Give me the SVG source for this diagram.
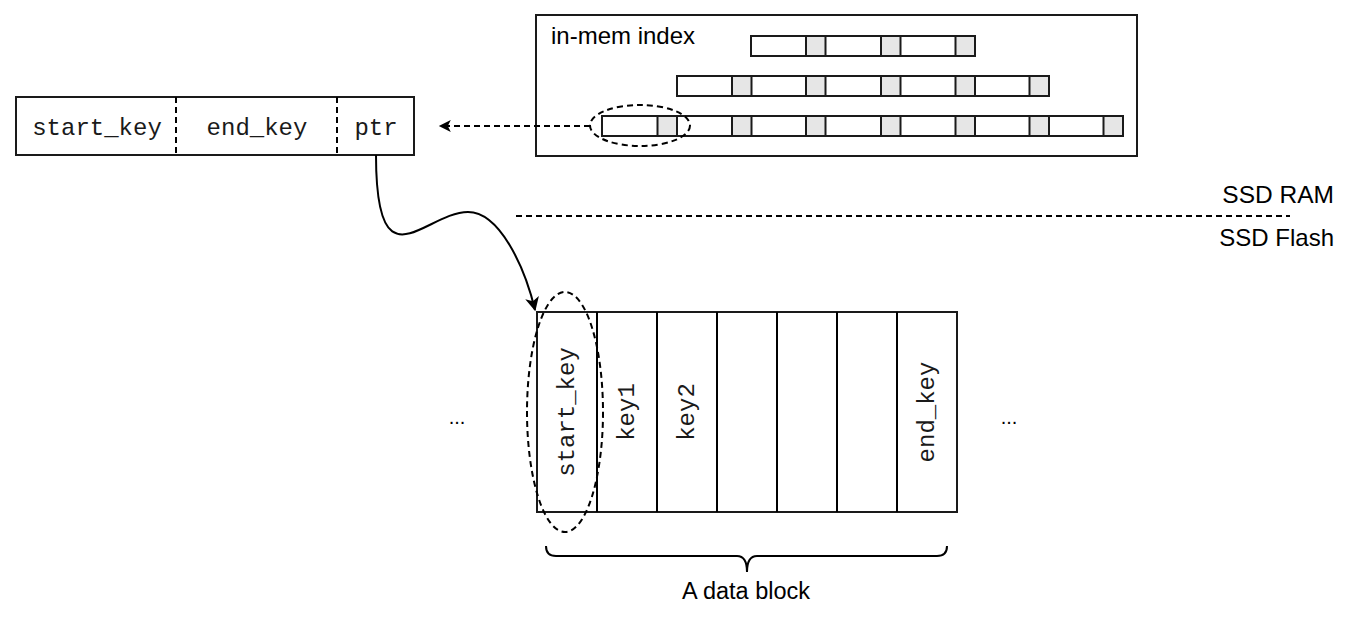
<svg xmlns="http://www.w3.org/2000/svg" width="1350" height="630" viewBox="0 0 1350 630">
<defs>
<style>
.box{fill:#fff;stroke:#1a1a1a;stroke-width:2}
.gray{fill:#e6e6e6;stroke:#1a1a1a;stroke-width:2}
.dash{fill:none;stroke:#000;stroke-width:2;stroke-dasharray:6 4}
.sans{font-family:"Liberation Sans",Arial,sans-serif;fill:#000}
.mono{font-family:"Liberation Mono","Courier New",monospace;font-size:24px;fill:#1a1a1a}
.line{fill:none;stroke:#000;stroke-width:2}
</style>
<marker id="ah" viewBox="0 0 10 10" refX="9" refY="5" markerWidth="14" markerHeight="12" markerUnits="userSpaceOnUse" orient="auto">
<path d="M0,0 L10,5 L0,10 L2.5,5 Z" fill="#000"/>
</marker>
<marker id="ah2" viewBox="0 0 10 10" refX="9" refY="5" markerWidth="15" markerHeight="14" markerUnits="userSpaceOnUse" orient="auto">
<path d="M0,0 L10,5 L0,10 L2.5,5 Z" fill="#000"/>
</marker>
</defs>
<rect width="1350" height="630" fill="#fff"/>

<g id="inmem-index">
<rect class="box" x="536" y="15" width="601" height="141"/>
<text class="sans" x="551" y="44" font-size="24">in-mem index</text>
<g id="row1">
<rect class="box" x="751" y="36" width="224" height="20"/>
<rect class="gray" x="806" y="36" width="19.5" height="20"/>
<rect class="gray" x="881" y="36" width="19.5" height="20"/>
<rect class="gray" x="955.5" y="36" width="19.5" height="20"/>
</g>
<g id="row2">
<rect class="box" x="677" y="76" width="372" height="20"/>
<rect class="gray" x="732" y="76" width="19.5" height="20"/>
<rect class="gray" x="806" y="76" width="19.5" height="20"/>
<rect class="gray" x="881" y="76" width="19.5" height="20"/>
<rect class="gray" x="955.5" y="76" width="19.5" height="20"/>
<rect class="gray" x="1029.5" y="76" width="19.5" height="20"/>
</g>
<g id="row3">
<rect class="box" x="602" y="116" width="521" height="20"/>
<rect class="gray" x="657.5" y="116" width="19.5" height="20"/>
<rect class="gray" x="732" y="116" width="19.5" height="20"/>
<rect class="gray" x="806" y="116" width="19.5" height="20"/>
<rect class="gray" x="881" y="116" width="19.5" height="20"/>
<rect class="gray" x="955.5" y="116" width="19.5" height="20"/>
<rect class="gray" x="1029.5" y="116" width="19.5" height="20"/>
<rect class="gray" x="1103.5" y="116" width="19.5" height="20"/>
</g>
<ellipse class="dash" cx="640" cy="125.5" rx="50" ry="20.5"/>
</g>

<g id="index-entry">
<rect class="box" x="16" y="97" width="398" height="58"/>
<line class="dash" x1="176" y1="97" x2="176" y2="155"/>
<line class="dash" x1="337" y1="97" x2="337" y2="155"/>
<text class="mono" x="97" y="135" text-anchor="middle">start_key</text>
<text class="mono" x="257" y="135" text-anchor="middle">end_key</text>
<text class="mono" x="376" y="135" text-anchor="middle">ptr</text>
</g>

<g id="ssd-boundary">
<line class="dash" x1="516" y1="216" x2="1290" y2="216"/>
<text class="sans" x="1334" y="203" font-size="24.5" text-anchor="end">SSD RAM</text>
<text class="sans" x="1334" y="246" font-size="24" text-anchor="end">SSD Flash</text>
</g>

<g id="data-block">
<rect class="box" x="537" y="312" width="420" height="200"/>
<line class="line" x1="597" y1="312" x2="597" y2="512"/>
<line class="line" x1="657" y1="312" x2="657" y2="512"/>
<line class="line" x1="717" y1="312" x2="717" y2="512"/>
<line class="line" x1="777" y1="312" x2="777" y2="512"/>
<line class="line" x1="837" y1="312" x2="837" y2="512"/>
<line class="line" x1="897" y1="312" x2="897" y2="512"/>
<text class="mono" transform="translate(567,412) rotate(-90)" text-anchor="middle" dominant-baseline="central">start_key</text>
<text class="mono" transform="translate(627,412) rotate(-90)" text-anchor="middle" dominant-baseline="central">key1</text>
<text class="mono" transform="translate(687,412) rotate(-90)" text-anchor="middle" dominant-baseline="central">key2</text>
<text class="mono" transform="translate(927,412) rotate(-90)" text-anchor="middle" dominant-baseline="central">end_key</text>
<ellipse class="dash" cx="565" cy="412" rx="38" ry="120"/>
</g>

<g id="ellipsis-left"><text class="sans" x="457" y="424" font-size="20" text-anchor="middle">...</text></g>
<g id="ellipsis-right"><text class="sans" x="1009" y="424" font-size="20" text-anchor="middle">...</text></g>

<g id="brace">
<path class="line" stroke-width="1.5" d="M546,546 Q546,556 556,556 L737,556 Q747,556 747,572 Q747,556 757,556 L937,556 Q947,556 947,546"/>
<text class="sans" x="746" y="599" font-size="23.5" text-anchor="middle">A data block</text>
</g>

<g id="connectors">
<path class="dash" d="M590,126 L440,126" marker-end="url(#ah)"/>
<path class="line" d="M376,155 C376,290 425,212 468,212 C500,212 525,268 535,310" marker-end="url(#ah2)"/>
</g>
</svg>
